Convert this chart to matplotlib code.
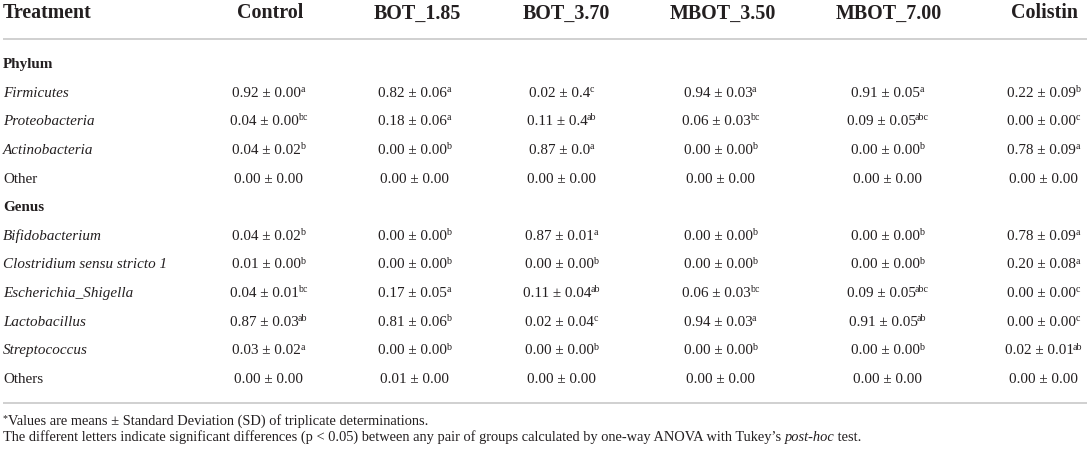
import matplotlib
matplotlib.use("Agg")
import matplotlib.pyplot as plt

# ---------------- data ----------------
treatments = ["Control", "BOT_1.85", "BOT_3.70", "MBOT_3.50", "MBOT_7.00", "Colistin"]

phylum_rows = ["Firmicutes", "Proteobacteria", "Actinobacteria", "Other"]
phylum_italic = [True, True, True, False]
phylum_means = [
    ["0.92", "0.82", "0.02", "0.94", "0.91", "0.22"],
    ["0.04", "0.18", "0.11", "0.06", "0.09", "0.00"],
    ["0.04", "0.00", "0.87", "0.00", "0.00", "0.78"],
    ["0.00", "0.00", "0.00", "0.00", "0.00", "0.00"],
]
phylum_sds = [
    ["0.00", "0.06", "0.4", "0.03", "0.05", "0.09"],
    ["0.00", "0.06", "0.4", "0.03", "0.05", "0.00"],
    ["0.02", "0.00", "0.0", "0.00", "0.00", "0.09"],
    ["0.00", "0.00", "0.00", "0.00", "0.00", "0.00"],
]
phylum_letters = [
    ["a", "a", "c", "a", "a", "b"],
    ["bc", "a", "ab", "bc", "abc", "c"],
    ["b", "b", "a", "b", "b", "a"],
    ["", "", "", "", "", ""],
]

genus_rows = ["Bifidobacterium", "Clostridium sensu stricto 1", "Escherichia_Shigella",
              "Lactobacillus", "Streptococcus", "Others"]
genus_italic = [True, True, True, True, True, False]
genus_means = [
    ["0.04", "0.00", "0.87", "0.00", "0.00", "0.78"],
    ["0.01", "0.00", "0.00", "0.00", "0.00", "0.20"],
    ["0.04", "0.17", "0.11", "0.06", "0.09", "0.00"],
    ["0.87", "0.81", "0.02", "0.94", "0.91", "0.00"],
    ["0.03", "0.00", "0.00", "0.00", "0.00", "0.02"],
    ["0.00", "0.01", "0.00", "0.00", "0.00", "0.00"],
]
genus_sds = [
    ["0.02", "0.00", "0.01", "0.00", "0.00", "0.09"],
    ["0.00", "0.00", "0.00", "0.00", "0.00", "0.08"],
    ["0.01", "0.05", "0.04", "0.03", "0.05", "0.00"],
    ["0.03", "0.06", "0.04", "0.03", "0.05", "0.00"],
    ["0.02", "0.00", "0.00", "0.00", "0.00", "0.01"],
    ["0.00", "0.00", "0.00", "0.00", "0.00", "0.00"],
]
genus_letters = [
    ["b", "b", "a", "b", "b", "a"],
    ["b", "b", "b", "b", "b", "a"],
    ["bc", "a", "ab", "bc", "abc", "c"],
    ["ab", "b", "c", "a", "ab", "c"],
    ["a", "b", "b", "b", "b", "ab"],
    ["", "", "", "", "", ""],
]

footnote1 = "Values are means \u00b1 Standard Deviation (SD) of triplicate determinations."
footnote2_parts = [
    ("The different letters indicate significant differences (p < 0.05) between any pair of "
     "groups calculated by one-way ANOVA with Tukey\u2019s ", "normal"),
    ("post-hoc", "italic"),
    (" test.", "normal"),
]

# ---------------- layout / style ----------------
W, H = 1089, 451
FONT = "Liberation Serif"
COLOR = "#231f20"
LINE_COLOR = "#c8c8c8"
header_size = 14.4
body_size = 10.9
sup_size = 7.2
foot_size = 10.4

header_x = [270, 417, 566, 723, 889, 1045]
data_x = [268, 414, 561, 720, 887, 1043]
left_x = 3
header_baseline = 18.5
top_line_y = 39
first_row_baseline = 68
row_step = 28.64
bottom_line_y = 403
foot_baselines = [425, 441]

fig = plt.figure(figsize=(W / 100, H / 100), dpi=100)
ax = fig.add_axes([0, 0, 1, 1])
ax.set_xlim(0, W)
ax.set_ylim(H, 0)
ax.axis("off")
renderer = fig.canvas.get_renderer()


def txt(x, y, s, size, weight="normal", style="normal", ha="left"):
    return ax.text(x, y, s, fontsize=size, fontweight=weight, fontstyle=style,
                   family=FONT, color=COLOR, ha=ha, va="baseline")


def width(t):
    return t.get_window_extent(renderer).width


# header
txt(left_x, header_baseline, "Treatment", header_size, weight="bold")
for x, name in zip(header_x, treatments):
    txt(x, header_baseline, name, header_size, weight="bold", ha="center")

ax.plot([3, 1087], [top_line_y, top_line_y], color=LINE_COLOR, lw=1.2, solid_capstyle="butt")
ax.plot([3, 1087], [bottom_line_y, bottom_line_y], color=LINE_COLOR, lw=1.2, solid_capstyle="butt")


def cell(cx, y, main, sup):
    t = txt(0, y, main, body_size)
    wm = width(t) - 1.0
    ws = 0
    s = None
    if sup:
        s = txt(0, y - 4.8, sup, sup_size)
        ws = width(s) - 1.0
    left = cx - (wm + ws) / 2
    t.set_x(left)
    if s is not None:
        s.set_x(left + wm)


row = 0
for group, labels, italics, means, sds, letters in [
    ("Phylum", phylum_rows, phylum_italic, phylum_means, phylum_sds, phylum_letters),
    ("Genus", genus_rows, genus_italic, genus_means, genus_sds, genus_letters),
]:
    y = first_row_baseline + row * row_step
    txt(left_x, y, group, body_size, weight="bold")
    row += 1
    for i, lab in enumerate(labels):
        y = first_row_baseline + row * row_step
        txt(left_x, y, lab, body_size, style="italic" if italics[i] else "normal")
        for j in range(len(treatments)):
            cell(data_x[j], y, f"{means[i][j]} \u00b1 {sds[i][j]}", letters[i][j])
        row += 1

# footnotes
star = txt(left_x, foot_baselines[0] - 4, "*", sup_size)
txt(left_x + width(star) - 0.5, foot_baselines[0], footnote1, foot_size)

x = left_x
for s, st in footnote2_parts:
    t = txt(x, foot_baselines[1], s, foot_size, style=st)
    x += width(t)

fig.savefig("out.png", dpi=100)
